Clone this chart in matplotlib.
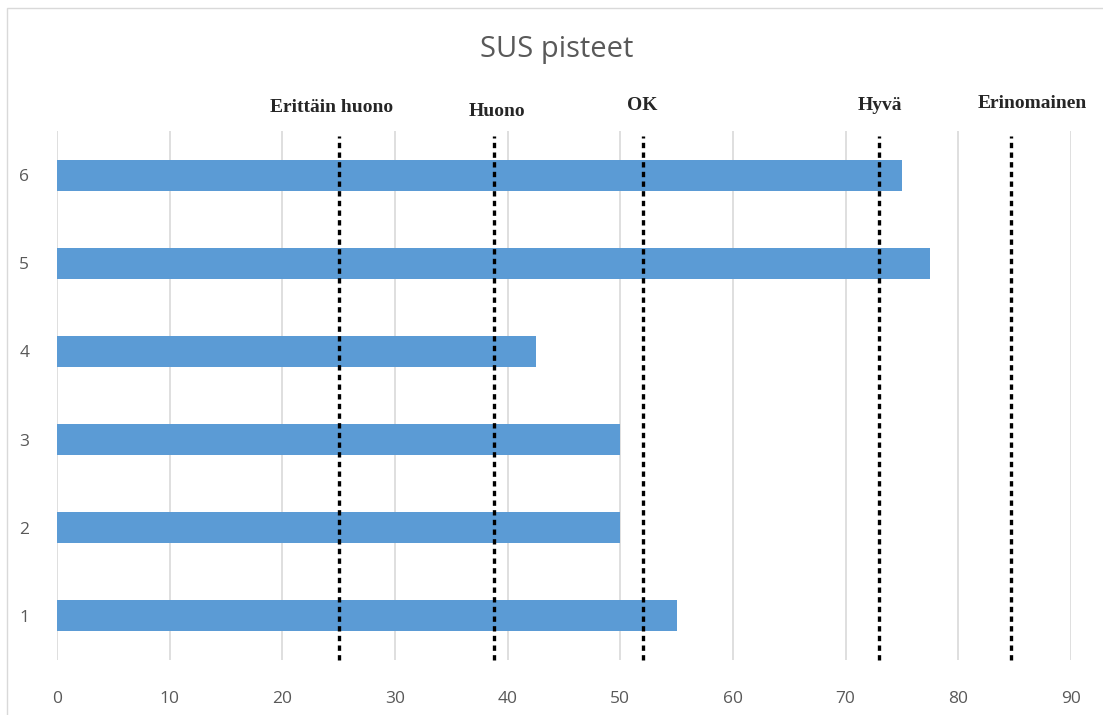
import matplotlib
matplotlib.use("Agg")
import matplotlib.pyplot as plt
from matplotlib.patches import Rectangle

categories = ["1", "2", "3", "4", "5", "6"]
scores = [55, 50, 50, 42.5, 77.5, 75]
thresholds = [25, 38.8, 52, 73, 84.7]
threshold_labels = ["Erittäin huono", "Huono", "OK", "Hyvä", "Erinomainen"]
x_ticks = [0, 10, 20, 30, 40, 50, 60, 70, 80, 90]

W, H = 1103, 715
fig = plt.figure(figsize=(W / 100, H / 100), dpi=100)

def fx(px):
    return px / W

def fy(py):
    return 1 - py / H

# chart border (right and bottom edges fall outside the image)
fig.patches.append(Rectangle((fx(7), fy(900)), fx(1500), (900 - 8) / H,
                             transform=fig.transFigure, fill=False,
                             edgecolor="#D9D9D9", linewidth=1.0))

ax = fig.add_axes([fx(57), fy(660), fx(1071) - fx(57), (660 - 131) / H])
ypos = list(range(len(categories)))
ax.barh(ypos, scores, height=0.35, color="#5B9BD5", zorder=2)
ax.set_xlim(0, 90)
ax.set_ylim(-0.5, len(categories) - 0.5)
ax.set_xticks(x_ticks)
ax.set_yticks(ypos)
ax.set_yticklabels(categories)
ax.grid(axis="x", color="#D9D9D9", linewidth=1.2, zorder=0)
ax.set_axisbelow(True)
for s in ax.spines.values():
    s.set_visible(False)
ax.tick_params(axis="both", length=0, labelsize=12.5, labelcolor="#595959")
ax.tick_params(axis="x", pad=22)
ax.tick_params(axis="y", pad=20)
for lbl in ax.get_xticklabels() + ax.get_yticklabels():
    lbl.set_fontfamily("Open Sans")

for t in thresholds:
    ax.axvline(t, ymin=0.0, ymax=0.99, color="black", linewidth=2.4,
               linestyle=(0, (1.6, 1.3)), zorder=3, clip_on=False)

label_px = [(332, 107), (497, 111), (642, 105), (880, 105), (1032, 103)]
for (px, py), txt in zip(label_px, threshold_labels):
    fig.text(fx(px), fy(py), txt, ha="center", va="center",
             fontfamily="Liberation Serif", fontweight="bold", fontsize=14,
             color="#262626")

fig.text(fx(557), fy(50), "SUS pisteet", ha="center", va="center",
         fontfamily="Open Sans", fontsize=21, color="#595959")

fig.savefig("out.png", dpi=100)
